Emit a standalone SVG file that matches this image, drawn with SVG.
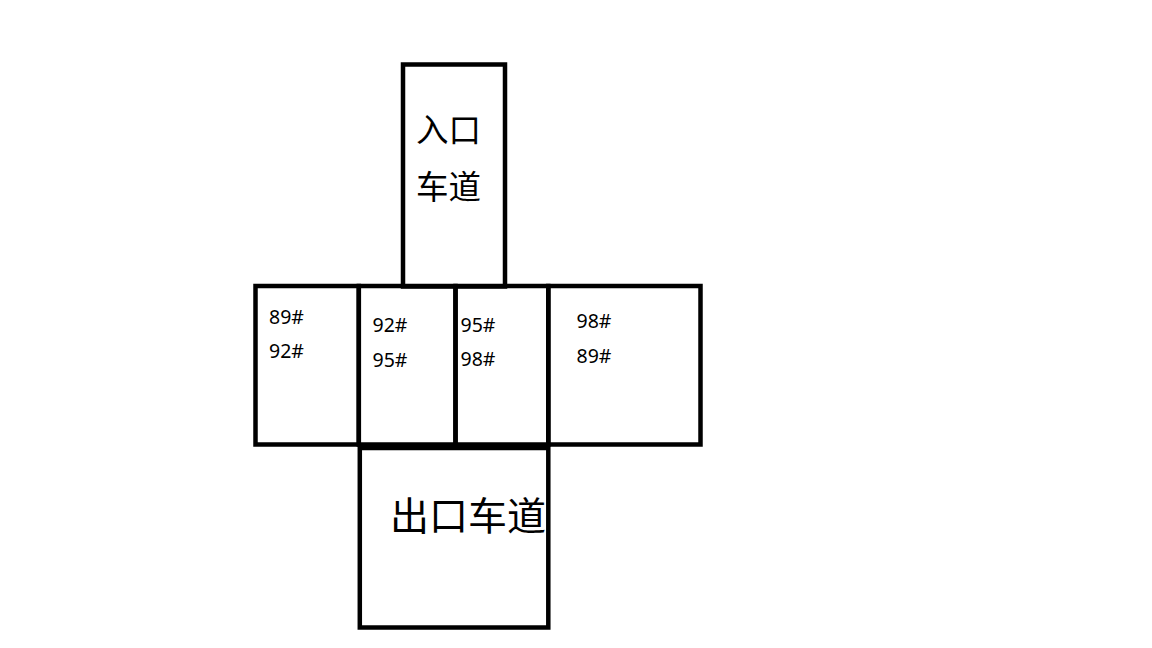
<svg xmlns="http://www.w3.org/2000/svg" width="1152" height="648" viewBox="0 0 1152 648">
<style>
.box{fill:none;stroke:#000;stroke-width:4.5}
.num{font-family:"Noto Sans","Noto Sans CJK SC",sans-serif;font-size:19.5px;fill:#000}
.cjk{font-family:"Noto Sans CJK SC",sans-serif;fill:#000}
</style>
<rect x="0" y="0" width="1152" height="648" fill="#fff"/>
<g id="pump1">
<rect class="box" x="255.5" y="286" width="103.3" height="158.5"/>
<text class="num" x="269" y="323.5">89#</text>
<text class="num" x="269" y="358">92#</text>
</g>
<g id="pump2">
<rect class="box" x="358.8" y="286" width="96.7" height="158.5"/>
<text class="num" x="372.5" y="332">92#</text>
<text class="num" x="372.5" y="366.5">95#</text>
</g>
<g id="pump3">
<rect class="box" x="455.5" y="286" width="92.8" height="158.5"/>
<text class="num" x="460.5" y="331.5">95#</text>
<text class="num" x="460.5" y="366">98#</text>
</g>
<g id="pump4">
<rect class="box" x="548.3" y="286" width="152.2" height="158.5"/>
<text class="num" x="576.5" y="328">98#</text>
<text class="num" x="576.5" y="363">89#</text>
</g>
<g id="entrance">
<rect class="box" x="403" y="64.5" width="102" height="222"/>
<text class="cjk" font-size="32.5" x="416" y="141.5">入口</text>
<text class="cjk" font-size="32.5" x="416" y="198.5">车道</text>
</g>
<g id="exit">
<rect class="box" x="359.8" y="448" width="188.5" height="179.5"/>
<text class="cjk" font-size="39" x="390" y="530">出口车道</text>
</g>
<g id="connectors"></g>
</svg>
